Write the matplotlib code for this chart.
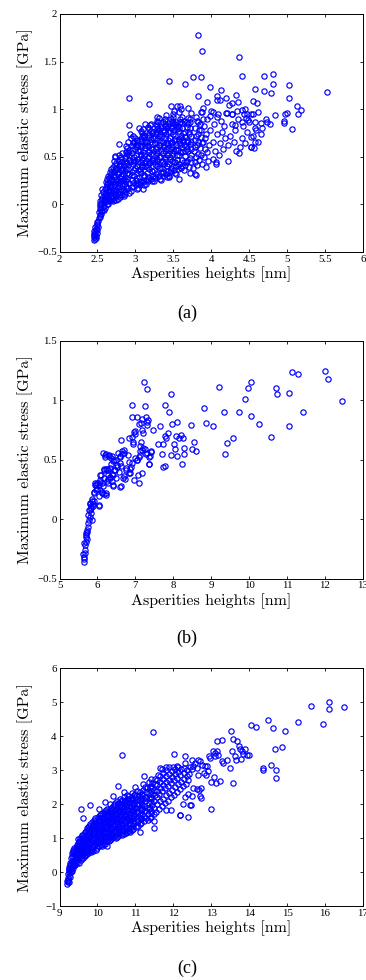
import numpy as np
import matplotlib
matplotlib.use("Agg")
import matplotlib.pyplot as plt
from matplotlib.ticker import FuncFormatter, MultipleLocator

# (a) asperity height [nm] vs maximum elastic stress [GPa]
a_pts = [
    # bottom tip
    (2.46, -0.37), (2.47, -0.36), (2.45, -0.34), (2.48, -0.33), (2.46, -0.31), (2.47, -0.29),
    (2.45, -0.28), (2.48, -0.26), (2.47, -0.24), (2.49, -0.22), (2.48, -0.35), (2.46, -0.32),
    (2.49, -0.30), (2.50, -0.27), (2.49, -0.19), (2.51, -0.17), (2.50, -0.21), (2.51, -0.24),
    # steep rise
    (2.52, -0.14), (2.53, -0.11), (2.52, -0.08), (2.54, -0.05), (2.53, -0.02), (2.55, 0.01),
    (2.54, 0.04), (2.56, 0.07), (2.55, 0.10), (2.56, -0.07), (2.55, -0.10), (2.57, -0.03),
    (2.57, 0.13), (2.56, 0.16),
    (2.58, -0.06), (2.59, -0.02), (2.58, 0.02), (2.60, 0.05), (2.59, 0.09), (2.61, 0.12),
    (2.60, 0.16), (2.62, 0.19), (2.61, 0.23), (2.62, 0.0), (2.63, 0.04), (2.62, 0.27), (2.63, 0.08),
    (2.64, 0.0), (2.65, 0.03), (2.64, 0.07), (2.66, 0.11), (2.65, 0.15), (2.67, 0.18),
    (2.66, 0.22), (2.68, 0.26), (2.67, 0.30), (2.66, 0.34), (2.68, 0.05), (2.69, 0.13), (2.68, 0.37),
    (2.70, 0.03), (2.71, 0.07), (2.72, 0.11), (2.70, 0.15), (2.73, 0.19), (2.71, 0.23),
    (2.74, 0.27), (2.72, 0.31), (2.73, 0.35), (2.71, 0.39), (2.74, 0.43), (2.72, 0.46),
    (2.75, 0.05), (2.75, 0.15), (2.76, 0.25), (2.75, 0.38), (2.73, 0.50),
    (2.77, 0.06), (2.78, 0.10), (2.79, 0.14), (2.77, 0.18), (2.80, 0.22), (2.78, 0.26),
    (2.81, 0.30), (2.79, 0.34), (2.82, 0.38), (2.80, 0.42), (2.78, 0.46), (2.81, 0.50),
    (2.83, 0.54), (2.82, 0.10), (2.83, 0.20), (2.84, 0.32), (2.83, 0.44), (2.79, 0.52),
    (2.85, 0.09), (2.86, 0.13), (2.87, 0.17), (2.85, 0.21), (2.88, 0.25), (2.86, 0.29),
    (2.89, 0.33), (2.87, 0.37), (2.90, 0.41), (2.88, 0.45), (2.86, 0.49), (2.89, 0.53),
    (2.91, 0.57), (2.88, 0.61), (2.92, 0.12), (2.91, 0.22), (2.92, 0.32), (2.93, 0.44),
    (2.92, 0.52), (2.90, 0.65),
    (2.535, -0.13), (2.545, -0.065), (2.535, 0.0), (2.555, 0.05), (2.545, -0.035),
    (2.595, 0.03), (2.605, 0.10), (2.615, 0.175), (2.625, 0.21), (2.605, -0.04),
    (2.655, 0.05), (2.665, 0.13), (2.675, 0.20), (2.655, 0.28), (2.675, 0.32), (2.685, 0.09),
    (2.715, 0.05), (2.725, 0.13), (2.735, 0.21), (2.715, 0.29), (2.745, 0.37), (2.725, 0.41),
    (2.755, 0.33), (2.745, 0.09),
    (2.795, 0.08), (2.805, 0.16), (2.815, 0.24), (2.795, 0.28), (2.825, 0.36), (2.805, 0.40),
    (2.815, 0.48), (2.835, 0.26), (2.825, 0.14),
    (2.865, 0.11), (2.875, 0.19), (2.885, 0.27), (2.865, 0.35), (2.895, 0.43), (2.875, 0.51),
    (2.895, 0.59), (2.905, 0.17), (2.905, 0.37), (2.915, 0.47), (2.90, 0.55),
    (2.625, 0.06), (2.635, 0.14), (2.645, 0.22), (2.645, 0.30),
    (2.695, 0.09), (2.705, 0.19), (2.695, 0.27), (2.705, 0.35),
    (2.765, 0.12), (2.775, 0.22), (2.765, 0.32), (2.785, 0.40),
    (2.845, 0.15), (2.855, 0.27), (2.845, 0.41), (2.875, 0.55),
    # dense core
    (2.94, 0.14), (2.95, 0.18), (2.97, 0.22), (2.95, 0.26), (2.98, 0.30), (2.96, 0.34),
    (2.99, 0.38), (2.97, 0.42), (3.00, 0.46), (2.98, 0.50), (2.96, 0.54), (2.99, 0.58),
    (3.01, 0.62), (2.98, 0.66), (3.00, 0.70), (3.02, 0.16), (3.01, 0.26), (3.03, 0.36),
    (3.02, 0.48), (3.03, 0.56), (3.02, 0.67), (2.95, 0.62), (2.94, 0.70),
    (3.005, 0.20), (3.015, 0.28), (2.985, 0.36), (3.015, 0.40), (2.985, 0.44), (3.005, 0.52),
    (3.025, 0.60), (2.975, 0.64), (3.015, 0.68), (2.965, 0.72), (3.035, 0.22), (3.035, 0.44),
    (3.035, 0.62),
    (2.965, 0.19), (2.955, 0.31), (2.975, 0.47), (2.955, 0.57), (2.985, 0.66),
    (3.04, 0.17), (3.06, 0.21), (3.07, 0.25), (3.05, 0.29), (3.08, 0.33), (3.06, 0.37),
    (3.09, 0.41), (3.07, 0.45), (3.10, 0.49), (3.08, 0.53), (3.06, 0.57), (3.09, 0.61),
    (3.11, 0.65), (3.08, 0.69), (3.10, 0.73), (3.07, 0.77), (3.12, 0.20), (3.12, 0.30),
    (3.13, 0.40), (3.12, 0.52), (3.13, 0.62), (3.12, 0.72), (3.05, 0.80),
    (3.105, 0.23), (3.115, 0.31), (3.085, 0.39), (3.115, 0.43), (3.085, 0.47), (3.105, 0.55),
    (3.125, 0.59), (3.075, 0.67), (3.115, 0.71), (3.085, 0.75), (3.135, 0.26), (3.135, 0.46),
    (3.135, 0.66), (3.095, 0.79),
    (3.065, 0.23), (3.055, 0.35), (3.075, 0.51), (3.055, 0.61), (3.085, 0.71),
    (3.14, 0.21), (3.16, 0.25), (3.17, 0.29), (3.15, 0.33), (3.18, 0.37), (3.16, 0.41),
    (3.19, 0.45), (3.17, 0.49), (3.20, 0.53), (3.18, 0.57), (3.16, 0.61), (3.19, 0.65),
    (3.21, 0.69), (3.18, 0.73), (3.20, 0.77), (3.17, 0.81), (3.22, 0.24), (3.22, 0.35),
    (3.23, 0.46), (3.22, 0.58), (3.23, 0.70), (3.21, 0.84),
    (3.205, 0.27), (3.215, 0.35), (3.185, 0.43), (3.215, 0.47), (3.185, 0.51), (3.205, 0.59),
    (3.225, 0.63), (3.175, 0.71), (3.215, 0.75), (3.185, 0.79), (3.235, 0.30), (3.235, 0.52),
    (3.235, 0.76), (3.195, 0.83),
    (3.165, 0.27), (3.155, 0.39), (3.175, 0.55), (3.155, 0.65), (3.185, 0.75),
    (3.24, 0.24), (3.26, 0.28), (3.27, 0.32), (3.25, 0.36), (3.28, 0.40), (3.26, 0.44),
    (3.29, 0.48), (3.27, 0.52), (3.30, 0.56), (3.28, 0.60), (3.26, 0.64), (3.29, 0.68),
    (3.31, 0.72), (3.28, 0.76), (3.30, 0.80), (3.27, 0.84), (3.29, 0.88), (3.32, 0.27),
    (3.32, 0.38), (3.33, 0.50), (3.32, 0.62), (3.33, 0.74), (3.31, 0.91),
    (3.305, 0.30), (3.315, 0.38), (3.285, 0.46), (3.315, 0.50), (3.285, 0.54), (3.305, 0.62),
    (3.325, 0.66), (3.275, 0.74), (3.315, 0.78), (3.285, 0.82), (3.335, 0.33), (3.335, 0.56),
    (3.335, 0.80), (3.295, 0.86),
    (3.265, 0.30), (3.255, 0.42), (3.275, 0.58), (3.255, 0.70), (3.285, 0.79),
    (3.34, 0.26), (3.36, 0.30), (3.37, 0.34), (3.35, 0.38), (3.38, 0.42), (3.36, 0.46),
    (3.39, 0.50), (3.37, 0.54), (3.40, 0.58), (3.38, 0.62), (3.36, 0.66), (3.39, 0.70),
    (3.41, 0.74), (3.38, 0.78), (3.40, 0.82), (3.37, 0.86), (3.39, 0.90), (3.42, 0.29),
    (3.42, 0.40), (3.43, 0.52), (3.42, 0.64), (3.43, 0.76), (3.41, 0.94),
    (3.405, 0.32), (3.415, 0.40), (3.385, 0.48), (3.415, 0.52), (3.385, 0.56), (3.405, 0.64),
    (3.425, 0.68), (3.375, 0.76), (3.415, 0.80), (3.385, 0.84), (3.435, 0.35), (3.435, 0.58),
    (3.435, 0.82), (3.395, 0.88),
    (3.365, 0.33), (3.355, 0.44), (3.375, 0.60), (3.355, 0.72), (3.385, 0.82),
    (3.44, 0.30), (3.46, 0.34), (3.47, 0.38), (3.45, 0.42), (3.48, 0.46), (3.46, 0.50),
    (3.49, 0.54), (3.47, 0.58), (3.50, 0.62), (3.48, 0.66), (3.46, 0.70), (3.49, 0.74),
    (3.51, 0.78), (3.48, 0.82), (3.50, 0.86), (3.47, 0.90), (3.49, 0.95), (3.52, 0.33),
    (3.52, 0.45), (3.53, 0.57), (3.52, 0.69), (3.53, 0.81), (3.51, 0.98),
    (3.505, 0.36), (3.515, 0.44), (3.485, 0.52), (3.515, 0.56), (3.485, 0.60), (3.505, 0.68),
    (3.525, 0.72), (3.475, 0.80), (3.515, 0.84), (3.485, 0.88), (3.535, 0.40), (3.535, 0.62),
    (3.535, 0.86), (3.495, 0.92),
    (3.465, 0.36), (3.455, 0.48), (3.475, 0.64), (3.455, 0.76), (3.485, 0.85),
    (3.54, 0.32), (3.56, 0.37), (3.57, 0.42), (3.55, 0.47), (3.58, 0.52), (3.56, 0.57),
    (3.59, 0.62), (3.57, 0.67), (3.60, 0.72), (3.58, 0.77), (3.56, 0.82), (3.59, 0.87),
    (3.61, 0.92), (3.58, 0.97), (3.62, 0.40), (3.62, 0.55), (3.63, 0.68), (3.62, 0.80), (3.60, 1.00),
    (3.605, 0.38), (3.615, 0.47), (3.585, 0.55), (3.615, 0.60), (3.585, 0.64), (3.605, 0.70),
    (3.625, 0.75), (3.575, 0.80), (3.615, 0.85), (3.585, 0.90), (3.635, 0.45), (3.635, 0.62),
    (3.635, 0.88),
    (3.565, 0.40), (3.555, 0.52), (3.575, 0.69), (3.555, 0.79), (3.585, 0.86),
    (3.64, 0.36), (3.66, 0.41), (3.68, 0.46), (3.65, 0.51), (3.69, 0.56), (3.67, 0.61),
    (3.70, 0.66), (3.66, 0.71), (3.71, 0.76), (3.68, 0.81), (3.72, 0.86), (3.69, 0.91),
    (3.73, 0.96), (3.74, 0.44), (3.73, 0.58), (3.74, 0.72), (3.72, 0.33),
    (3.705, 0.39), (3.715, 0.49), (3.685, 0.58), (3.715, 0.63), (3.685, 0.68), (3.705, 0.74),
    (3.725, 0.80), (3.675, 0.86), (3.715, 0.90), (3.735, 0.52), (3.735, 0.66),
    (3.665, 0.44), (3.655, 0.56), (3.675, 0.66), (3.655, 0.76), (3.695, 0.84),
    # thinning out to the right
    (3.76, 0.38), (3.78, 0.44), (3.80, 0.50), (3.77, 0.56), (3.81, 0.62), (3.79, 0.68),
    (3.82, 0.74), (3.78, 0.80), (3.83, 0.86), (3.80, 0.92), (3.84, 0.47), (3.85, 0.59),
    (3.86, 0.71), (3.85, 0.84), (3.86, 0.97), (3.79, 0.32),
    (3.81, 0.41), (3.83, 0.53), (3.79, 0.60), (3.83, 0.66), (3.80, 0.72), (3.84, 0.78),
    (3.81, 0.88), (3.87, 0.52), (3.88, 0.64), (3.87, 0.78), (3.89, 0.90),
    (3.88, 0.42), (3.90, 0.50), (3.92, 0.58), (3.89, 0.66), (3.93, 0.74), (3.91, 0.82),
    (3.94, 0.90), (3.96, 0.46), (3.97, 0.62), (3.98, 0.78), (3.99, 0.93), (3.95, 0.55), (3.92, 0.70),
    (4.02, 0.48), (4.05, 0.56), (4.03, 0.66), (4.07, 0.74), (4.04, 0.84), (4.08, 0.92),
    (4.10, 0.52), (4.12, 0.64), (4.14, 0.76), (4.13, 0.88), (4.16, 0.58), (4.18, 0.70),
    (4.17, 0.82), (4.19, 0.96), (4.06, 0.44),
    (4.22, 0.62), (4.25, 0.72), (4.27, 0.84), (4.30, 0.66), (4.32, 0.78), (4.35, 0.90),
    (4.38, 0.60), (4.40, 0.70), (4.42, 0.82), (4.45, 0.64), (4.47, 0.76), (4.50, 0.86),
    (4.52, 0.60), (4.55, 0.72), (4.33, 0.56), (4.28, 0.95), (4.43, 0.95), (4.58, 0.80),
    (4.62, 0.66), (4.66, 0.85),
    # scattered points and outliers
    (3.82, 1.78), (3.88, 1.615), (4.36, 1.55), (3.45, 1.30), (3.76, 1.34), (3.86, 1.34),
    (3.66, 1.26), (3.99, 1.23), (4.13, 1.20), (4.405, 1.35), (4.70, 1.35), (4.81, 1.37),
    (4.82, 1.265), (4.58, 1.21), (4.69, 1.19), (4.79, 1.17), (5.03, 1.25), (5.02, 1.12),
    (5.53, 1.18), (2.92, 1.12), (3.18, 1.05), (4.33, 1.15), (4.20, 1.115), (3.82, 1.135),
    (4.07, 1.14), (4.55, 1.09), (4.60, 1.06), (5.13, 1.03), (5.18, 0.99), (5.15, 0.945),
    (4.997, 0.964), (4.97, 0.947), (4.96, 0.876), (4.96, 0.85), (5.07, 0.796), (4.84, 0.94),
    (4.62, 0.968), (4.72, 0.894), (4.74, 0.863), (4.78, 0.845), (4.67, 0.803), (4.58, 0.87),
    (4.53, 0.947), (4.475, 0.954), (4.41, 0.992), (4.34, 0.98), (4.28, 1.06), (4.23, 1.045),
    (4.12, 1.097), (3.95, 1.07), (3.88, 0.97), (4.0, 0.98), (4.09, 0.947), (4.27, 0.954),
    (4.48, 0.887), (4.40, 0.87), (4.31, 0.835), (4.59, 0.782), (4.65, 0.744), (4.53, 0.712),
    (4.58, 0.65), (4.53, 0.607), (4.57, 0.59), (4.37, 0.537), (4.22, 0.456), (4.06, 0.42),
    (3.93, 0.397), (3.80, 0.31), (3.58, 0.27), (3.45, 0.29), (3.10, 0.16), (2.92, 0.83),
    (2.78, 0.63), (2.73, 0.51), (2.93, 0.74), (3.13, 0.845), (3.29, 0.92), (3.47, 1.03),
    (3.55, 1.03), (3.59, 1.03), (3.69, 1.01), (3.89, 1.01), (4.03, 0.97), (4.08, 1.10),
    (4.21, 0.955), (4.35, 1.07), (4.45, 1.00), (4.55, 0.95), (4.46, 0.905),
]

# (b)
b_pts = [
    (5.64, -0.357), (5.655, -0.334), (5.647, -0.315), (5.62, -0.29), (5.68, -0.28), (5.67, -0.26),
    (5.66, -0.22), (5.655, -0.20), (5.69, -0.19), (5.716, -0.169), (5.70, -0.15), (5.69, -0.132),
    (5.71, -0.118), (5.733, -0.104), (5.725, -0.09), (5.74, -0.062), (5.75, -0.034), (5.78, -0.006),
    (5.855, -0.006), (5.81, 0.022), (5.76, 0.036), (5.84, 0.05), (5.80, 0.079), (5.78, 0.078),
    (5.83, 0.093), (5.88, 0.112), (5.84, 0.112), (5.81, 0.135), (5.80, 0.129), (5.90, 0.149),
    (5.856, 0.149), (5.866, 0.171), (6.04, 0.112), (6.03, 0.115), (5.88, 0.129),
    (5.93, 0.289), (6.00, 0.303), (6.14, 0.281), (6.42, 0.281), (6.62, 0.275), (5.97, 0.247),
    (6.07, 0.241), (6.23, 0.219), (6.12, 0.219), (5.90, 0.219), (6.03, 0.197), (6.16, 0.213),
    (6.23, 0.205), (5.92, 0.225), (6.00, 0.253), (6.12, 0.228), (5.93, 0.30), (5.97, 0.284),
    (6.04, 0.284), (6.06, 0.31), (6.11, 0.303), (6.07, 0.331), (6.25, 0.317), (6.38, 0.317),
    (6.18, 0.345), (6.32, 0.345), (6.10, 0.373), (6.29, 0.373), (6.41, 0.373), (6.07, 0.37),
    (6.25, 0.421), (6.16, 0.421), (6.34, 0.43), (6.47, 0.415), (6.51, 0.438), (6.62, 0.449),
    (6.18, 0.415), (6.23, 0.42), (6.27, 0.415), (6.28, 0.337), (6.34, 0.354), (6.38, 0.38),
    (6.44, 0.415), (6.51, 0.458), (6.60, 0.47), (6.75, 0.43), (6.71, 0.36), (6.83, 0.388),
    (6.87, 0.388), (6.83, 0.477), (6.81, 0.536), (6.65, 0.576), (6.69, 0.579), (6.59, 0.52),
    (6.54, 0.553), (6.15, 0.556), (6.19, 0.54), (6.22, 0.55), (6.19, 0.522), (6.31, 0.528),
    (6.38, 0.534), (6.30, 0.537), (6.35, 0.514), (6.44, 0.50), (6.48, 0.50), (6.42, 0.486),
    (6.36, 0.466), (6.56, 0.40), (6.40, 0.289), (6.49, 0.345), (6.27, 0.30), (6.64, 0.55),
    (6.69, 0.56), (6.60, 0.528), (6.68, 0.345), (6.74, 0.415), (6.86, 0.418), (6.88, 0.44),
    (6.90, 0.472), (6.99, 0.514), (7.05, 0.50), (6.73, 0.335), (6.59, 0.27), (6.97, 0.325),
    (7.10, 0.30), (7.06, 0.37), (7.17, 0.39),
    (7.24, 1.155), (7.30, 1.09), (7.93, 1.05), (9.21, 1.11), (6.90, 0.96), (7.25, 0.95),
    (7.77, 0.96), (8.81, 0.93), (9.33, 0.90), (9.73, 0.90), (7.89, 0.90), (6.92, 0.86),
    (7.04, 0.86), (7.18, 0.845), (7.28, 0.86), (7.32, 0.83), (7.14, 0.81), (7.10, 0.80),
    (7.31, 0.815), (7.30, 0.795), (7.96, 0.80), (8.09, 0.815), (8.87, 0.81), (9.06, 0.78),
    (8.47, 0.795), (7.65, 0.78), (7.46, 0.75), (6.98, 0.74), (6.97, 0.73), (7.17, 0.753),
    (7.21, 0.722), (6.90, 0.69), (6.84, 0.68), (6.98, 0.713), (6.61, 0.663), (6.95, 0.649),
    (6.93, 0.635), (7.12, 0.612), (7.15, 0.649), (7.21, 0.60), (7.11, 0.576), (7.17, 0.578),
    (7.09, 0.522), (7.28, 0.55), (7.41, 0.57), (7.38, 0.528), (7.36, 0.466), (7.86, 0.72),
    (7.81, 0.68), (8.07, 0.70), (8.15, 0.68), (8.21, 0.71), (8.26, 0.68), (7.73, 0.63),
    (7.59, 0.635), (8.02, 0.635), (8.54, 0.65), (9.41, 0.64), (9.58, 0.68), (8.04, 0.59),
    (8.28, 0.60), (8.49, 0.59), (8.61, 0.57), (7.40, 0.565), (7.30, 0.555), (7.70, 0.55),
    (7.94, 0.54), (8.09, 0.535), (8.27, 0.55), (9.37, 0.545), (7.12, 0.54), (7.36, 0.52),
    (7.03, 0.50), (7.72, 0.44), (7.77, 0.45), (8.22, 0.46), (7.35, 0.465), (7.25, 0.59),
    (7.79, 0.70),
    (12.46, 0.99), (12.0, 1.245), (12.07, 1.18), (11.14, 1.24), (11.30, 1.22), (11.05, 1.06),
    (11.06, 0.78), (11.42, 0.90), (10.57, 0.69), (10.25, 0.80), (10.06, 0.865), (10.06, 1.15),
    (9.96, 1.10), (9.89, 1.01), (10.70, 1.10), (10.73, 1.05),
]

# (c)
c_pts = [
    (9.21, -0.34), (9.22, -0.30), (9.20, -0.26), (9.23, -0.22), (9.22, -0.17), (9.24, -0.12),
    (9.23, -0.06), (9.25, -0.01), (9.24, 0.05), (9.26, 0.10), (9.27, -0.15), (9.26, 0.16),
    (9.28, 0.22), (9.27, 0.28), (9.29, 0.03), (9.25, -0.28),
    (9.30, 0.0), (9.31, 0.08), (9.32, 0.16), (9.30, 0.24), (9.33, 0.32), (9.31, 0.40),
    (9.34, 0.48), (9.32, 0.56), (9.35, 0.12), (9.36, 0.28), (9.37, 0.44), (9.36, 0.60),
    (9.38, 0.70), (9.39, 0.20), (9.40, 0.36), (9.39, 0.52), (9.41, 0.66),
    (9.34, 0.04), (9.35, 0.20), (9.37, 0.36), (9.38, 0.52), (9.35, 0.64),
    (9.42, 0.22), (9.43, 0.30), (9.44, 0.40), (9.42, 0.50), (9.45, 0.60), (9.43, 0.70),
    (9.46, 0.80), (9.47, 0.34), (9.48, 0.46), (9.49, 0.58), (9.48, 0.72), (9.50, 0.86),
    (9.51, 0.28), (9.52, 0.40), (9.51, 0.54), (9.53, 0.66), (9.52, 0.78), (9.50, 0.96),
    (9.54, 0.90), (9.55, 1.00),
    (9.46, 0.26), (9.47, 0.42), (9.45, 0.54), (9.49, 0.66), (9.47, 0.76), (9.52, 0.92),
    (9.56, 0.36), (9.57, 0.46), (9.58, 0.56), (9.56, 0.66), (9.59, 0.76), (9.57, 0.86),
    (9.60, 0.96), (9.58, 1.06), (9.61, 0.42), (9.62, 0.52), (9.63, 0.62), (9.62, 0.72),
    (9.64, 0.82), (9.63, 0.92), (9.65, 1.02), (9.64, 1.12), (9.66, 0.48), (9.66, 0.68),
    (9.67, 0.88), (9.66, 1.18),
    (9.59, 0.40), (9.60, 0.50), (9.61, 0.60), (9.60, 0.70), (9.61, 0.80), (9.62, 0.90),
    (9.61, 1.00), (9.60, 1.10),
    (9.68, 0.50), (9.69, 0.60), (9.70, 0.70), (9.68, 0.80), (9.71, 0.90), (9.69, 1.00),
    (9.72, 1.10), (9.70, 1.20), (9.73, 1.30), (9.74, 0.56), (9.75, 0.66), (9.76, 0.76),
    (9.75, 0.86), (9.77, 0.96), (9.76, 1.06), (9.78, 1.16), (9.77, 1.26), (9.79, 1.36),
    (9.80, 0.62), (9.80, 0.82), (9.81, 1.02), (9.80, 1.22), (9.81, 1.42),
    (9.72, 0.54), (9.73, 0.64), (9.72, 0.74), (9.73, 0.84), (9.74, 0.94), (9.73, 1.04),
    (9.75, 1.14), (9.74, 1.24), (9.76, 1.34),
    (9.83, 0.58), (9.84, 0.68), (9.85, 0.78), (9.83, 0.88), (9.86, 0.98), (9.84, 1.08),
    (9.87, 1.18), (9.85, 1.28), (9.88, 1.38), (9.86, 1.48), (9.89, 0.70), (9.90, 0.80),
    (9.91, 0.90), (9.90, 1.00), (9.92, 1.10), (9.91, 1.20), (9.93, 1.30), (9.92, 1.40),
    (9.94, 1.50), (9.95, 0.66), (9.95, 0.86), (9.96, 1.06), (9.95, 1.26), (9.96, 1.46), (9.94, 1.58),
    (9.87, 0.62), (9.88, 0.74), (9.87, 0.84), (9.88, 0.94), (9.89, 1.04), (9.88, 1.14),
    (9.90, 1.24), (9.89, 1.34), (9.91, 1.44), (9.90, 1.54),
    (9.98, 0.72), (9.99, 0.82), (10.00, 0.92), (9.98, 1.02), (10.01, 1.12), (9.99, 1.22),
    (10.02, 1.32), (10.00, 1.42), (10.03, 1.52), (10.01, 1.62), (10.04, 0.76), (10.05, 0.88),
    (10.06, 0.98), (10.05, 1.08), (10.07, 1.18), (10.06, 1.28), (10.08, 1.38), (10.07, 1.48),
    (10.09, 1.58), (10.08, 1.68), (10.10, 0.80), (10.10, 1.00), (10.11, 1.20), (10.10, 1.40),
    (10.11, 1.60), (10.12, 1.74),
    (10.02, 0.78), (10.03, 0.88), (10.02, 0.98), (10.04, 1.08), (10.03, 1.18), (10.05, 1.28),
    (10.04, 1.38), (10.06, 1.48), (10.05, 1.58), (10.06, 1.68),
    (10.13, 0.78), (10.14, 0.90), (10.15, 1.00), (10.13, 1.10), (10.16, 1.20), (10.14, 1.30),
    (10.17, 1.40), (10.15, 1.50), (10.18, 1.60), (10.16, 1.70), (10.19, 1.80), (10.20, 0.84),
    (10.21, 0.96), (10.22, 1.06), (10.21, 1.16), (10.23, 1.26), (10.22, 1.36), (10.24, 1.46),
    (10.23, 1.56), (10.25, 1.66), (10.24, 1.76), (10.26, 1.86), (10.26, 0.92), (10.27, 1.12),
    (10.26, 1.32), (10.27, 1.52), (10.28, 1.72),
    (10.17, 0.84), (10.18, 0.94), (10.19, 1.04), (10.18, 1.14), (10.20, 1.24), (10.19, 1.34),
    (10.21, 1.44), (10.20, 1.54), (10.22, 1.64), (10.21, 1.74), (10.23, 1.84),
    (10.30, 0.90), (10.31, 1.00), (10.32, 1.10), (10.30, 1.20), (10.33, 1.30), (10.31, 1.40),
    (10.34, 1.50), (10.32, 1.60), (10.35, 1.70), (10.33, 1.80), (10.36, 1.90), (10.34, 2.00),
    (10.37, 0.96), (10.38, 1.06), (10.39, 1.16), (10.38, 1.26), (10.40, 1.36), (10.39, 1.46),
    (10.41, 1.56), (10.40, 1.66), (10.42, 1.76), (10.41, 1.86), (10.43, 1.96), (10.44, 1.02),
    (10.44, 1.22), (10.45, 1.42), (10.44, 1.62), (10.45, 1.82), (10.46, 2.04),
    (10.34, 0.94), (10.35, 1.04), (10.36, 1.14), (10.35, 1.24), (10.37, 1.34), (10.36, 1.44),
    (10.38, 1.54), (10.37, 1.64), (10.39, 1.74), (10.38, 1.84), (10.40, 1.94),
    (10.48, 1.00), (10.49, 1.10), (10.50, 1.20), (10.48, 1.30), (10.51, 1.40), (10.49, 1.50),
    (10.52, 1.60), (10.50, 1.70), (10.53, 1.80), (10.51, 1.90), (10.54, 2.00), (10.52, 2.10),
    (10.55, 1.06), (10.56, 1.16), (10.57, 1.26), (10.56, 1.36), (10.58, 1.46), (10.57, 1.56),
    (10.59, 1.66), (10.58, 1.76), (10.60, 1.86), (10.59, 1.96), (10.61, 2.06), (10.60, 2.16),
    (10.62, 1.12), (10.62, 1.32), (10.63, 1.52), (10.62, 1.72), (10.63, 1.92), (10.64, 2.12),
    (10.52, 1.04), (10.53, 1.14), (10.54, 1.24), (10.53, 1.34), (10.55, 1.44), (10.54, 1.54),
    (10.56, 1.64), (10.55, 1.74), (10.57, 1.84), (10.56, 1.94), (10.58, 2.04),
    (10.66, 1.08), (10.67, 1.20), (10.68, 1.30), (10.66, 1.40), (10.69, 1.50), (10.67, 1.60),
    (10.70, 1.70), (10.68, 1.80), (10.71, 1.90), (10.69, 2.00), (10.72, 2.10), (10.70, 2.20),
    (10.74, 1.14), (10.75, 1.26), (10.76, 1.36), (10.75, 1.46), (10.77, 1.56), (10.76, 1.66),
    (10.78, 1.76), (10.77, 1.86), (10.79, 1.96), (10.78, 2.06), (10.80, 2.16), (10.79, 2.26),
    (10.82, 1.20), (10.82, 1.42), (10.83, 1.62), (10.82, 1.82), (10.83, 2.02), (10.84, 2.24),
    (10.71, 1.12), (10.72, 1.24), (10.73, 1.34), (10.72, 1.44), (10.74, 1.54), (10.73, 1.64),
    (10.75, 1.74), (10.74, 1.84), (10.76, 1.94), (10.75, 2.04), (10.77, 2.14),
    (10.86, 1.18), (10.87, 1.30), (10.88, 1.40), (10.86, 1.52), (10.89, 1.62), (10.87, 1.72),
    (10.90, 1.82), (10.88, 1.92), (10.91, 2.02), (10.89, 2.12), (10.92, 2.22), (10.90, 2.32),
    (10.94, 1.26), (10.95, 1.38), (10.96, 1.50), (10.95, 1.60), (10.97, 1.70), (10.96, 1.80),
    (10.98, 1.90), (10.97, 2.00), (10.99, 2.10), (10.98, 2.20), (11.00, 2.30), (11.02, 1.34),
    (11.03, 1.56), (11.02, 1.76), (11.03, 1.96), (11.04, 2.16), (11.03, 2.38),
    (10.91, 1.24), (10.92, 1.34), (10.93, 1.44), (10.92, 1.56), (10.94, 1.66), (10.93, 1.76),
    (10.95, 1.86), (10.94, 1.96), (10.96, 2.06), (10.95, 2.16), (10.97, 2.26),
    (11.07, 1.36), (11.08, 1.50), (11.10, 1.62), (11.08, 1.76), (11.11, 1.88), (11.09, 2.00),
    (11.12, 2.12), (11.10, 2.24), (11.13, 2.36), (11.15, 1.44), (11.16, 1.58), (11.17, 1.72),
    (11.18, 1.86), (11.17, 2.00), (11.19, 2.14), (11.18, 2.28), (11.20, 2.42), (11.23, 1.50),
    (11.24, 1.66), (11.25, 1.80), (11.24, 1.94), (11.26, 2.08), (11.25, 2.22), (11.27, 2.36),
    (11.26, 2.50), (11.29, 1.60), (11.30, 1.90), (11.29, 2.18), (11.30, 2.46),
    (11.12, 1.42), (11.14, 1.56), (11.13, 1.68), (11.15, 1.82), (11.14, 1.94), (11.16, 2.06),
    (11.15, 2.18), (11.17, 2.30),
    (11.33, 1.52), (11.34, 1.70), (11.36, 1.86), (11.35, 2.02), (11.37, 2.18), (11.36, 2.34),
    (11.38, 2.50), (11.37, 2.64), (11.41, 1.62), (11.42, 1.80), (11.43, 1.98), (11.42, 2.14),
    (11.44, 2.30), (11.43, 2.46), (11.45, 2.62), (11.48, 1.70), (11.50, 1.90), (11.49, 2.08),
    (11.51, 2.26), (11.50, 2.42), (11.52, 2.58), (11.51, 2.74), (11.55, 1.78), (11.56, 2.00),
    (11.57, 2.20), (11.56, 2.38), (11.58, 2.56), (11.57, 2.72), (11.60, 2.86),
    (11.39, 1.58), (11.40, 1.74), (11.39, 1.90), (11.41, 2.06), (11.40, 2.22), (11.42, 2.38),
    (11.41, 2.54),
    (11.62, 1.86), (11.64, 2.08), (11.63, 2.30), (11.65, 2.48), (11.64, 2.66), (11.66, 2.82),
    (11.70, 1.94), (11.72, 2.16), (11.71, 2.38), (11.73, 2.56), (11.72, 2.74), (11.74, 2.92),
    (11.70, 3.04), (11.78, 2.04), (11.80, 2.26), (11.79, 2.46), (11.81, 2.64), (11.80, 2.82),
    (11.82, 3.00), (11.86, 2.10), (11.88, 2.34), (11.87, 2.54), (11.89, 2.72), (11.88, 2.90),
    (11.90, 3.08), (11.94, 2.20), (11.96, 2.42), (11.95, 2.62), (11.97, 2.80), (11.96, 2.98),
    (11.98, 3.10),
    (12.02, 2.28), (12.04, 2.50), (12.03, 2.70), (12.05, 2.90), (12.04, 3.04), (12.10, 2.36),
    (12.12, 2.58), (12.11, 2.78), (12.13, 2.96), (12.12, 3.08), (12.18, 2.44), (12.20, 2.66),
    (12.19, 2.86), (12.21, 3.04), (12.26, 2.52), (12.28, 2.74), (12.27, 2.92), (12.29, 3.06),
    (12.34, 2.60), (12.36, 2.82), (12.35, 3.00), (12.40, 2.70), (12.42, 2.90), (12.44, 3.10),
    (12.30, 2.20), (12.25, 2.00), (12.38, 2.30),
    # upper right group
    (13.51, 4.15), (13.57, 3.93), (13.67, 3.85), (13.72, 3.70), (13.76, 3.62), (13.80, 3.56),
    (13.89, 3.61), (13.85, 3.48), (13.94, 3.46), (14.00, 3.46), (13.79, 3.34), (13.63, 3.43),
    (13.65, 3.31), (13.54, 3.57), (13.41, 3.31), (13.28, 3.28), (13.15, 3.56), (13.10, 3.41),
    (13.16, 3.85), (13.28, 3.90), (12.97, 3.36), (13.19, 3.46), (13.32, 3.21), (13.50, 3.06),
    (13.57, 2.62), (13.23, 2.67), (13.13, 2.62), (13.08, 2.80), (12.90, 3.11), (12.84, 3.13),
    (12.75, 3.16), (12.71, 3.26), (12.66, 3.31), (12.58, 3.21), (12.53, 3.13), (12.49, 3.02),
    (12.81, 2.92), (12.87, 2.87), (12.62, 3.06), (12.66, 2.87), (12.69, 2.43), (12.71, 2.23),
    (12.62, 2.45), (12.53, 2.47), (12.49, 2.23), (12.46, 1.98), (12.99, 2.64), (13.00, 1.87),
    (14.36, 3.06), (14.36, 2.99), (14.57, 3.15), (14.71, 2.99), (14.72, 2.78), (14.68, 3.61),
    (14.86, 3.67), (14.63, 4.23), (14.49, 4.47), (14.18, 4.27), (14.05, 4.34), (14.95, 4.16),
    (15.29, 4.43), (15.64, 4.90), (15.96, 4.36), (16.11, 5.02), (16.11, 4.81), (16.49, 4.87),
    # scattered around the band
    (11.46, 4.12), (10.64, 3.46), (12.01, 3.48), (12.31, 3.41), (9.56, 1.85), (9.80, 1.96),
    (9.63, 1.59), (10.54, 2.52), (11.24, 2.84), (11.50, 1.50), (11.48, 1.31), (11.13, 1.17),
    (10.78, 1.18), (10.24, 0.78), (9.86, 0.64), (12.18, 1.68), (12.38, 1.61), (12.45, 1.96),
    (11.95, 1.82), (11.80, 1.83), (12.19, 1.69), (12.73, 2.18), (12.73, 2.47), (12.91, 2.97),
    (12.95, 3.41), (10.05, 1.85), (10.20, 2.05), (10.40, 2.25), (10.70, 2.35), (11.00, 2.50),
    (11.20, 2.60), (11.40, 2.75), (11.65, 3.05), (11.80, 3.10), (12.10, 3.12), (12.30, 3.20),
    (12.50, 3.30), (13.05, 3.55), (13.10, 3.51),
]

x_label = "Asperities heights [nm]"
y_label = "Maximum elastic stress [GPa]"
captions = ["(a)", "(b)", "(c)"]
x_limits = [(2, 6), (5, 13), (9, 17)]
y_limits = [(-0.5, 2), (-0.5, 1.5), (-1, 6)]
x_steps = [0.5, 1, 1]
y_steps = [0.5, 0.5, 1]

fig = plt.figure(figsize=(3.66, 9.8), dpi=100)

# axes rectangles in figure fractions (left, bottom, width, height)
rects = [
    [0.1626, 0.7429, 0.829, 0.2429],
    [0.1626, 0.4095, 0.829, 0.2429],
    [0.1626, 0.0755, 0.829, 0.2426],
]
caption_y = [1 - 313 / 980, 1 - 638 / 980, 1 - 968 / 980]

fmt = FuncFormatter(lambda v, p: ("%g" % v).replace("-", "\u2212"))

for pts, rect, xl, yl, xs, ys, cap, cy in zip(
        [a_pts, b_pts, c_pts], rects, x_limits, y_limits, x_steps, y_steps, captions, caption_y):
    ax = fig.add_axes(rect)
    x, y = np.array(pts).T
    ax.plot(x, y, "o", mfc="none", mec="#0000ff", ms=3.8, mew=0.85, clip_on=False)
    ax.set_xlim(*xl)
    ax.set_ylim(*yl)
    ax.xaxis.set_major_locator(MultipleLocator(xs))
    ax.yaxis.set_major_locator(MultipleLocator(ys))
    ax.xaxis.set_major_formatter(fmt)
    ax.yaxis.set_major_formatter(fmt)
    ax.tick_params(direction="in", top=True, right=True, length=2.5, width=0.6,
                   labelsize=7.8, pad=2.0)
    for lab in ax.get_xticklabels() + ax.get_yticklabels():
        lab.set_family("Liberation Serif")
    for s in ax.spines.values():
        s.set_linewidth(0.7)
    ax.set_xlabel(x_label, family="cmr10", fontsize=11.5)
    ax.set_ylabel(y_label, family="cmr10", fontsize=11.5)
    ax.xaxis.set_label_coords(0.5, -0.062)
    ax.yaxis.set_label_coords(-0.088, 0.5)
    fig.text(187 / 366, cy, cap, ha="center", va="center", fontsize=13,
             family="Liberation Serif")

fig.savefig("out.png", dpi=100)
